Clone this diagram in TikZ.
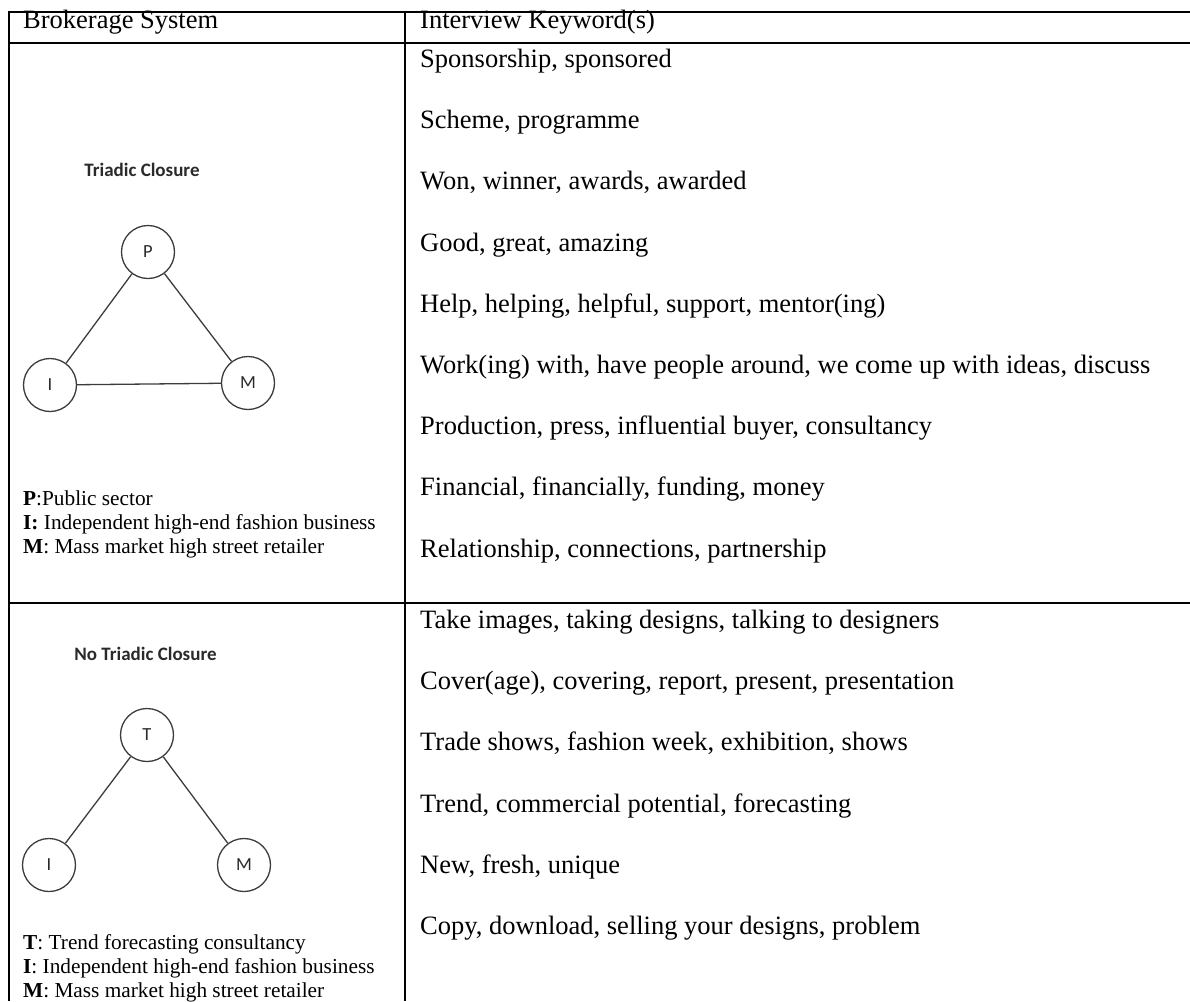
\documentclass[tikz,border=0pt]{standalone}
\usepackage{fontspec}
\setmainfont{Liberation Serif}
\newfontfamily\grfont{Carlito}
\definecolor{grline}{HTML}{3C3C3C}
\definecolor{grtext}{HTML}{2A2A2A}
\tikzset{
  tline/.style={line width=2pt, black},
  kw/.style={anchor=base west, inner sep=0pt, font=\fontsize{26.5}{30}\selectfont},
  leg/.style={anchor=base west, inner sep=0pt, font=\fontsize{21.3}{24}\selectfont},
  gtitle/.style={anchor=center, inner sep=0pt, text=grtext, font=\grfont\bfseries\fontsize{19}{22}\selectfont},
  actor/.style={circle, draw=grline, line width=1.3pt, minimum size=53pt, inner sep=0pt, text=grtext, font=\grfont\fontsize{18.5}{20}\selectfont},
  tie/.style={draw=grline, line width=1.3pt}
}
\begin{document}
\begin{tikzpicture}[x=1pt, y=-1pt]
\useasboundingbox (0,0) rectangle (1190,1001);
% table rules
\coordinate (tl) at (7.5,11.5);
\coordinate (tr) at (1190,11.5);
\coordinate (hl) at (7.5,43);
\coordinate (hr) at (1190,43);
\coordinate (rl) at (7.5,603);
\coordinate (rr) at (1190,603);
\coordinate (lb) at (8.5,1001);
\coordinate (ct) at (405,10.5);
\coordinate (cb) at (405,1001);
\coordinate (lt) at (8.5,10.5);
\draw[tline] (tl) -- (tr);
\draw[tline] (hl) -- (hr);
\draw[tline] (rl) -- (rr);
\draw[tline] (lt) -- (lb);
\draw[tline] (ct) -- (cb);
% header
\node[kw] (h1) at (23,28.3) {Brokerage System};
\node[kw] (h2) at (420,28.3) {Interview Keyword(s)};
% keywords row 1
\node[kw] (k1) at (420,67.5) {Sponsorship, sponsored};
\node[kw] (k2) at (420,128.7) {Scheme, programme};
\node[kw] (k3) at (420,189.9) {Won, winner, awards, awarded};
\node[kw] (k4) at (420,251.1) {Good, great, amazing};
\node[kw] (k5) at (420,312.3) {Help, helping, helpful, support, mentor(ing)};
\node[kw] (k6) at (420,373.5) {Work(ing) with, have people around, we come up with ideas, discuss};
\node[kw] (k7) at (420,434.7) {Production, press, influential buyer, consultancy};
\node[kw] (k8) at (420,495.9) {Financial, financially, funding, money};
\node[kw] (k9) at (420,557.1) {Relationship, connections, partnership};
% keywords row 2
\node[kw] (m1) at (420,628.5) {Take images, taking designs, talking to designers};
\node[kw] (m2) at (420,689.7) {Cover(age), covering, report, present, presentation};
\node[kw] (m3) at (420,750.9) {Trade shows, fashion week, exhibition, shows};
\node[kw] (m4) at (420,812.1) {Trend, commercial potential, forecasting};
\node[kw] (m5) at (420,873.3) {New, fresh, unique};
\node[kw] (m6) at (420,934.5) {Copy, download, selling your designs, problem};
% graph 1
\node[gtitle] (g1t) at (142,170) {Triadic Closure};
\node[actor] (P) at (148,252) {P};
\node[actor] (I1) at (50,385) {I};
\node[actor] (M1) at (248,383) {M};
\draw[tie] (P) -- (I1);
\draw[tie] (P) -- (M1);
\draw[tie] (I1) -- (M1);
\node[leg] (l1) at (23,505) {\textbf{P}:Public sector};
\node[leg] (l2) at (23,529) {\textbf{I:} Independent high-end fashion business};
\node[leg] (l3) at (23,553) {\textbf{M}: Mass market high street retailer};
% graph 2
\node[gtitle] (g2t) at (145.5,654) {No Triadic Closure};
\node[actor] (T) at (147,735) {T};
\node[actor] (I2) at (49,865) {I};
\node[actor] (M2) at (244,865) {M};
\draw[tie] (T) -- (I2);
\draw[tie] (T) -- (M2);
\node[leg] (n1) at (23,949) {\textbf{T}: Trend forecasting consultancy};
\node[leg] (n2) at (23,973) {\textbf{I}: Independent high-end fashion business};
\node[leg] (n3) at (23,997) {\textbf{M}: Mass market high street retailer};
\end{tikzpicture}
\end{document}
